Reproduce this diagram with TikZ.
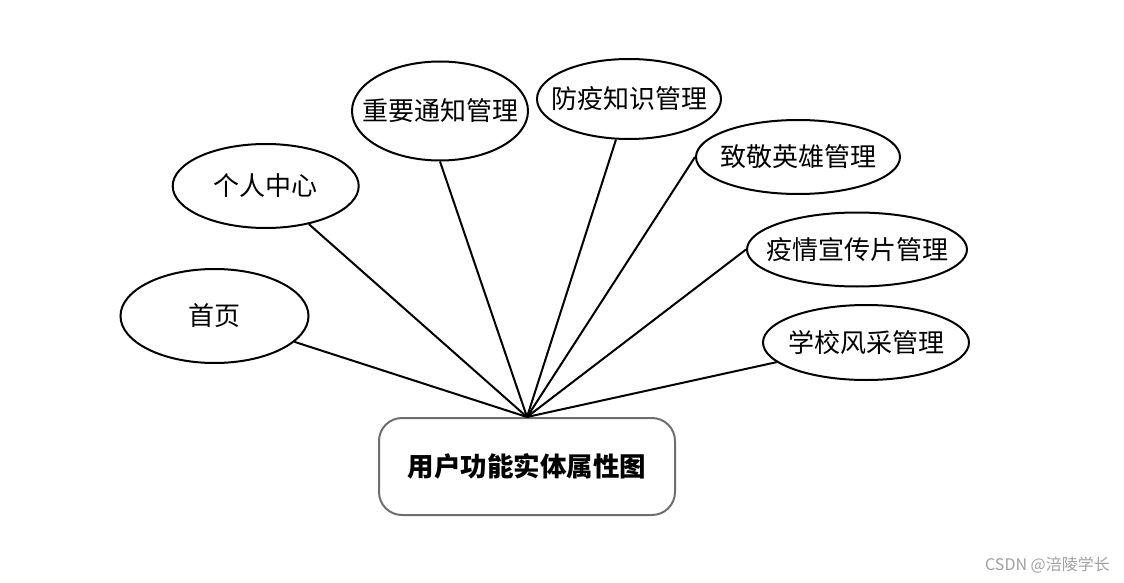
\documentclass[tikz,border=0pt]{standalone}
\usepackage{fontspec}
\newfontfamily\cjk{Noto Sans CJK SC}
\usetikzlibrary{shapes.geometric}
\definecolor{boxgray}{HTML}{6E6E6E}
\definecolor{wmgray}{HTML}{A0A0A0}
\tikzset{
  attr/.style={ellipse, draw=black, line width=2pt, inner sep=0pt, font=\cjk\fontsize{26}{28}\selectfont},
  link/.style={draw=black, line width=2pt},
  entity/.style={rectangle, rounded corners=23pt, draw=boxgray, line width=2pt, minimum width=296pt, minimum height=97pt, font=\cjk\bfseries\fontsize{26.5}{30}\selectfont}
}
\newcommand{\zw}[1]{\makebox[0pt]{#1}}
\begin{document}
\begin{tikzpicture}[x=1pt,y=-1pt]
\useasboundingbox (0,0) rectangle (1124,583);
\node[attr, minimum width=188pt, minimum height=94pt] (shouye) at (214.5,316) {\zw{首页}};
\node[attr, minimum width=186pt, minimum height=84pt] (geren) at (265.7,186) {\zw{个人中心}};
\node[attr, minimum width=176pt, minimum height=99pt] (tongzhi) at (440,111) {\zw{重要通知管理}};
\node[attr, minimum width=184pt, minimum height=80pt] (fangyi) at (629,99) {\zw{防疫知识管理}};
\node[attr, minimum width=204pt, minimum height=74pt] (yingxiong) at (798,157) {\zw{致敬英雄管理}};
\node[attr, minimum width=220pt, minimum height=74pt] (xuanchuan) at (857,249.5) {\zw{疫情宣传片管理}};
\node[attr, minimum width=206pt, minimum height=75pt] (fengcai) at (866,342.5) {\zw{学校风采管理}};
\node[entity] (main) at (527,466.5) {用户功能实体属性图};
\coordinate (hub) at (527,417);
\draw[link] (shouye) -- (hub);
\draw[link] (geren) -- (hub);
\draw[link] (tongzhi.south) -- (hub);
\draw[link] (fangyi) -- (hub);
\draw[link] (yingxiong.west) -- (hub);
\draw[link] (xuanchuan.west) -- (hub);
\draw[link] (fengcai) -- (hub);
\node[font=\cjk\fontsize{16}{18}\selectfont, text=wmgray, anchor=east, inner sep=0pt] (wm) at (1110,565) {CSDN @涪陵学长};
\end{tikzpicture}
\end{document}
